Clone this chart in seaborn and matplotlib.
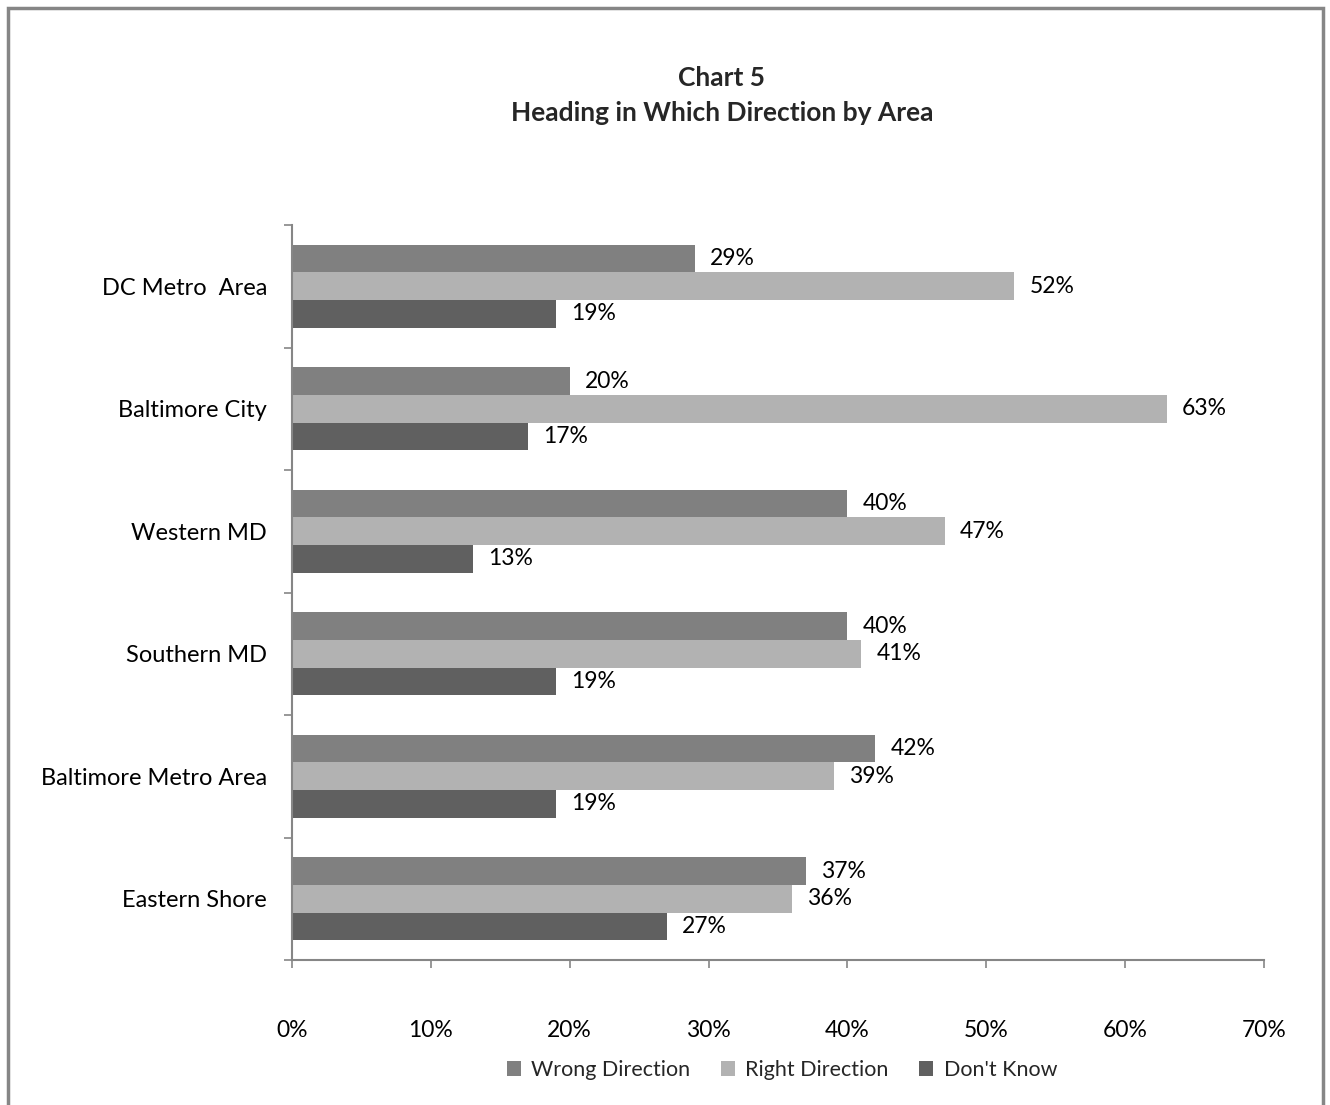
import matplotlib
matplotlib.use("Agg")
import matplotlib.pyplot as plt
import seaborn as sns
import pandas as pd
from matplotlib.patches import Rectangle
from matplotlib.ticker import FixedLocator, PercentFormatter

areas = ["DC Metro  Area", "Baltimore City", "Western MD", "Southern MD",
         "Baltimore Metro Area", "Eastern Shore"]
series = ["Wrong Direction", "Right Direction", "Don't Know"]
wrong = [29, 20, 40, 40, 42, 37]
right = [52, 63, 47, 41, 39, 36]
dont_know = [19, 17, 13, 19, 19, 27]
colors = ["#808080", "#b2b2b2", "#606060"]
x_ticks = [0, 10, 20, 30, 40, 50, 60, 70]

rows = []
for i, a in enumerate(areas):
    for s, vals in zip(series, [wrong, right, dont_know]):
        rows.append({"Area": a, "Series": s, "Value": vals[i]})
df = pd.DataFrame(rows)

sns.set_theme(style="white")
plt.rcParams["font.family"] = ["Lato", "DejaVu Sans"]

fig = plt.figure(figsize=(13.3, 11.05), dpi=100)
ax = fig.add_axes([292/1330, 1-960/1105, (1264-292)/1330, (960-225)/1105])

sns.barplot(data=df, y="Area", x="Value", hue="Series", order=areas,
            hue_order=series, palette=colors, orient="h", width=0.675,
            saturation=1, ax=ax, legend=True, linewidth=0)

for cont in ax.containers:
    ax.bar_label(cont, labels=[f"{int(round(v))}%" for v in cont.datavalues],
                 padding=11, fontsize=16.5, color="#000000")

ax.set_xlim(0, 70)
ax.set_ylim(5.5, -0.5)
ax.xaxis.set_major_locator(FixedLocator(x_ticks))
ax.xaxis.set_major_formatter(PercentFormatter(decimals=0))
ax.set_xlabel("")
ax.set_ylabel("")

ax.set_yticks(range(len(areas)))
ax.set_yticklabels(areas)
ax.set_yticks([i - 0.5 for i in range(len(areas) + 1)], minor=True)
ax.tick_params(axis="y", which="major", length=0, pad=18, labelsize=17, colors="#000000")
ax.tick_params(axis="y", which="minor", length=6, width=1.2, color="#868686", direction="out", left=True)
ax.tick_params(axis="x", which="major", length=6, width=1.2, color="#868686", direction="out",
               bottom=True, pad=37, labelsize=16.5, labelcolor="#000000")

for s in ["top", "right"]:
    ax.spines[s].set_visible(False)
for s in ["left", "bottom"]:
    ax.spines[s].set_color("#868686")
    ax.spines[s].set_linewidth(1.5)

leg = ax.legend(loc="center", bbox_to_anchor=(0.504, 1 - (1070-225)/(960-225)),
                ncol=3, frameon=False, fontsize=15.5, handlelength=0.65, handleheight=0.65,
                handletextpad=0.5, columnspacing=1.4)

fig.text(722/1330, 1-78/1105, "Chart 5", ha="center", va="center",
         fontsize=19, fontweight="bold")
fig.text(722/1330, 1-113/1105, "Heading in Which Direction by Area", ha="center",
         va="center", fontsize=19, fontweight="bold")

fig.patches.append(Rectangle((8/1330, -0.05), (1323-8)/1330, 1.05-8/1105,
                             transform=fig.transFigure, fill=False,
                             edgecolor="#868686", linewidth=2.5))

fig.savefig("out.png", dpi=100)
